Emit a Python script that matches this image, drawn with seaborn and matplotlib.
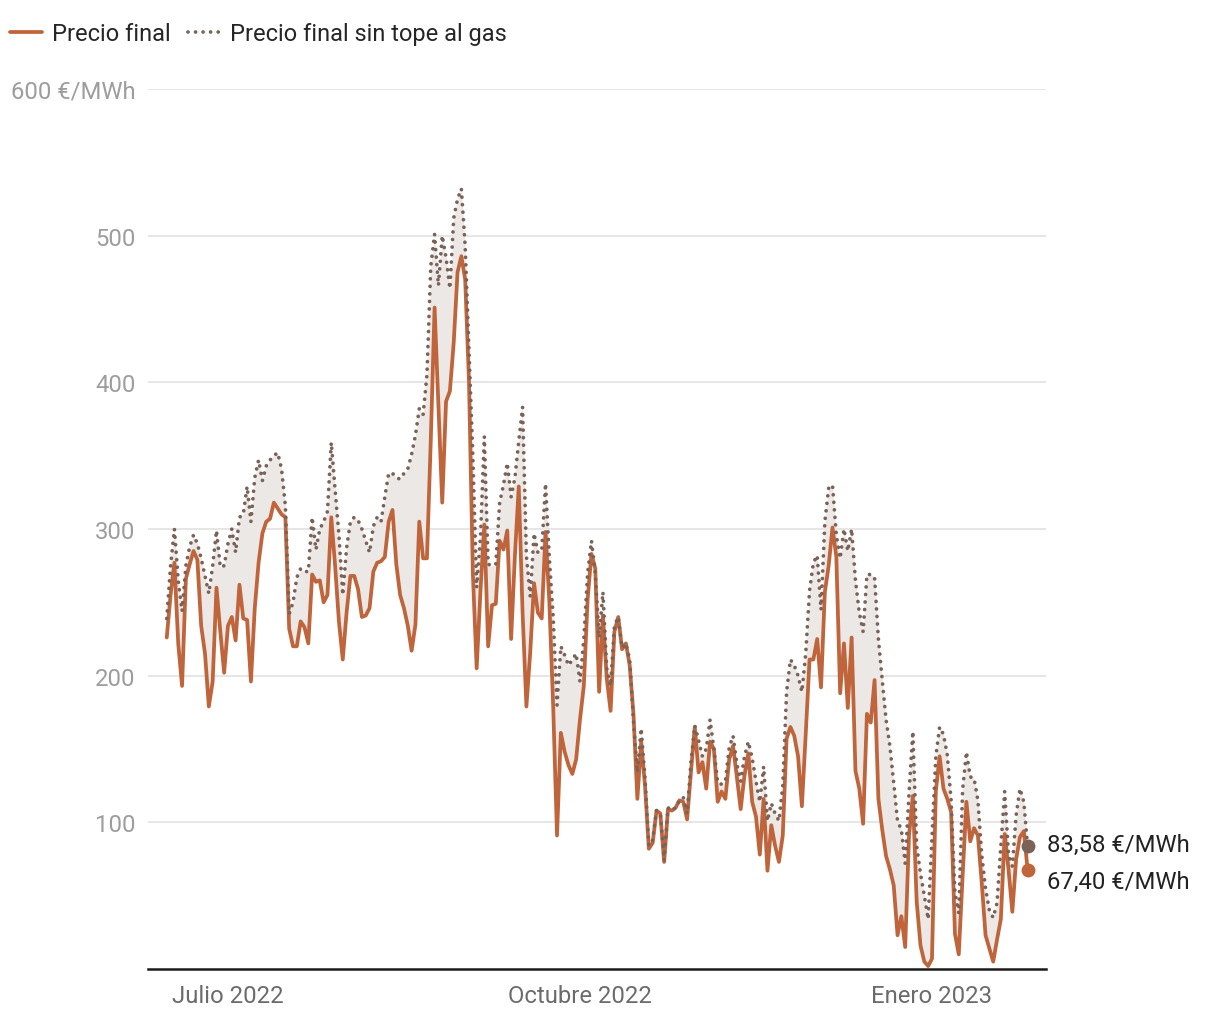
import numpy as np
import pandas as pd
import matplotlib
matplotlib.use("Agg")
import matplotlib.pyplot as plt
import seaborn as sns

# datos diarios, 15 jun 2022 - 26 ene 2023 (€/MWh)
fechas = pd.date_range("2022-06-15", periods=226, freq="D")

precio_final = [
    226, 255, 277, 222, 193, 266, 276, 285, 279, 234,
    215, 179, 196, 260, 230, 202, 234, 240, 224, 262,
    239, 238, 196, 246, 277, 297, 305, 307, 318, 314,
    310, 308, 232, 220, 220, 237, 233, 222, 269, 264,
    265, 250, 255, 308, 275, 237, 211, 243, 268, 268,
    259, 240, 241, 246, 271, 277, 278, 281, 305, 313,
    276, 255, 246, 234, 217, 235, 305, 280, 280, 360,
    451, 385, 318, 387, 394, 427, 475, 486, 470, 400,
    270, 205, 258, 303, 220, 248, 249, 292, 286, 299,
    225, 282, 329, 243, 179, 216, 263, 243, 239, 298,
    250, 179, 91, 161, 148, 139, 133, 143, 170, 193,
    252, 283, 273, 189, 241, 198, 176, 230, 240, 218,
    222, 207, 173, 116, 155, 125, 82, 86, 108, 106,
    73, 109, 108, 110, 115, 114, 102, 134, 165, 134,
    141, 123, 155, 150, 114, 121, 116, 143, 152, 131,
    109, 132, 147, 114, 104, 78, 116, 67, 98, 84,
    73, 91, 157, 165, 159, 145, 111, 160, 211, 211,
    225, 192, 257, 275, 301, 281, 188, 222, 178, 226,
    135, 123, 99, 174, 168, 197, 116, 95, 77, 68,
    57, 23, 36, 15, 91, 118, 46, 16, 5, 2,
    7, 121, 145, 123, 116, 107, 24, 10, 63, 114,
    87, 96, 91, 59, 23, 14, 5, 20, 34, 92,
    68, 39, 75, 90, 94, 67.40,
]

precio_sin_tope = [
    239, 275, 300, 265, 244, 275, 288, 296, 290, 280,
    268, 256, 275, 299, 274, 275, 290, 300, 284, 308,
    310, 329, 305, 335, 347, 333, 343, 347, 350, 352,
    341, 316, 242, 250, 267, 273, 271, 271, 308, 286,
    300, 305, 312, 359, 327, 296, 255, 287, 305, 308,
    306, 300, 292, 284, 302, 308, 305, 322, 338, 338,
    335, 334, 338, 341, 351, 364, 382, 378, 405, 479,
    501, 466, 500, 485, 464, 512, 525, 532, 493, 421,
    350, 260, 295, 363, 276, 275, 276, 318, 330, 345,
    322, 335, 360, 383, 282, 254, 297, 284, 285, 331,
    280, 240, 180, 220, 214, 207, 211, 215, 196, 225,
    270, 292, 270, 226, 257, 205, 193, 234, 240, 219,
    222, 211, 168, 134, 164, 130, 84, 88, 108, 106,
    74, 110, 108, 110, 115, 117, 106, 141, 166, 156,
    145, 150, 170, 150, 127, 126, 128, 151, 159, 140,
    128, 145, 155, 144, 128, 114, 138, 101, 113, 106,
    101, 125, 189, 211, 207, 200, 189, 215, 258, 277,
    282, 245, 305, 328, 330, 296, 280, 300, 285, 300,
    265, 243, 230, 269, 269, 267, 225, 197, 170, 152,
    127, 101, 95, 72, 120, 162, 84, 65, 50, 34,
    90, 145, 165, 160, 146, 115, 52, 38, 122, 148,
    131, 130, 115, 78, 55, 40, 35, 45, 84, 121,
    78, 70, 105, 123, 114, 83.58,
]

ticks_x = ["2022-07-01", "2022-10-01", "2023-01-01"]
etiquetas_x = ["Julio 2022", "Octubre 2022", "Enero 2023"]
ticks_y = [100, 200, 300, 400, 500, 600]
etiquetas_y = ["100", "200", "300", "400", "500", "600 €/MWh"]

df = pd.DataFrame({"fecha": fechas, "final": precio_final, "sin_tope": precio_sin_tope})

sns.set_style("white")
plt.rcParams["font.family"] = ["Roboto", "DejaVu Sans"]

naranja = "#c0643b"
marron = "#7a6259"
relleno = "#ece8e5"

fig = plt.figure(figsize=(12.2, 10.2), dpi=100)
ax = fig.add_axes([148 / 1220, 50 / 1020, 898 / 1220, 880 / 1020])

# zona entre las dos series
ax.fill_between(df["fecha"], df["final"], df["sin_tope"], color=relleno, linewidth=0, zorder=1)

sns.lineplot(data=df, x="fecha", y="final", color=naranja, linewidth=2.7,
             label="Precio final", ax=ax, zorder=3)
sns.lineplot(data=df, x="fecha", y="sin_tope", color=marron, linewidth=2.7,
             linestyle=(0, (0.01, 2.0)), dash_capstyle="round",
             label="Precio final sin tope al gas", ax=ax, zorder=4)

# puntos finales
ult = df.iloc[-1]
ax.scatter([ult["fecha"]], [ult["sin_tope"]], s=100, color=marron, zorder=6, clip_on=False, linewidth=0)
ax.scatter([ult["fecha"]], [ult["final"]], s=100, color=naranja, zorder=6, clip_on=False, linewidth=0)
ax.annotate("83,58 €/MWh", xy=(ult["fecha"], ult["sin_tope"]), xytext=(19, 2),
            textcoords="offset pixels", va="center", ha="left", fontsize=17.2,
            color="#222222", annotation_clip=False)
ax.annotate("67,40 €/MWh", xy=(ult["fecha"], ult["final"]), xytext=(19, -11),
            textcoords="offset pixels", va="center", ha="left", fontsize=17.2,
            color="#222222", annotation_clip=False)

# ejes
ax.set_xlim(fechas[0] - pd.Timedelta(days=4.9), fechas[-1] + pd.Timedelta(days=4.8))
ax.set_ylim(0, 600)
ax.set_yticks(ticks_y)
ax.set_yticklabels(etiquetas_y)
ax.set_xticks(pd.to_datetime(ticks_x))
ax.set_xticklabels(etiquetas_x)
ax.set_xlabel("")
ax.set_ylabel("")
ax.tick_params(axis="y", length=0, pad=9, labelsize=17.2, labelcolor="#9d9d9d")
ax.tick_params(axis="x", length=0, pad=11, labelsize=17.2, labelcolor="#6b6b6b")
ax.yaxis.grid(True, color="#e2e2e2", linewidth=1.2)
ax.xaxis.grid(False)
for s in ["left", "right", "top"]:
    ax.spines[s].set_visible(False)
ax.spines["bottom"].set_color("#1a1a1a")
ax.spines["bottom"].set_linewidth(1.8)

# leyenda arriba
handles, labels = ax.get_legend_handles_labels()
ax.get_legend().remove()
fig.legend(handles, labels, loc="upper left", bbox_to_anchor=(10 / 1220, 0.977), ncol=2,
           frameon=False, fontsize=17, handlelength=1.35, handletextpad=0.42,
           columnspacing=0.75, borderaxespad=0, borderpad=0)

fig.savefig("out.png", dpi=100)
